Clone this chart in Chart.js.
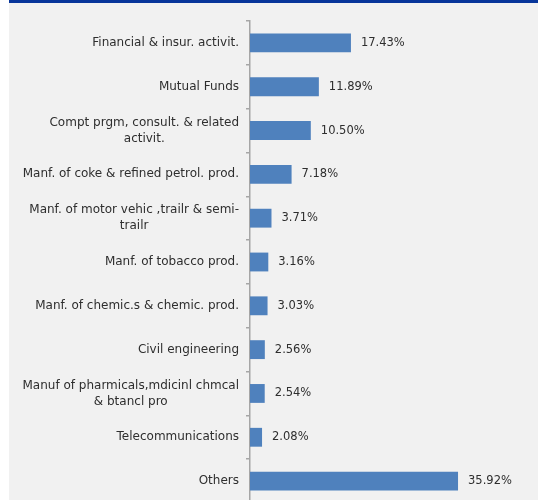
<!DOCTYPE html>
<html>
<head>
<meta charset="utf-8">
<script src="https://cdn.jsdelivr.net/npm/chart.js@4.4.1/dist/chart.umd.min.js"></script>
<style>
    html, body { margin: 0; padding: 0; background: #fff; overflow: hidden; }
    #wrap { position: relative; width: 538px; height: 500px; overflow: hidden; }
    #panel { position: absolute; left: 9px; top: 0; right: 0; bottom: 0; background: #f1f1f1; }
    #band { position: absolute; left: 9px; top: 0; right: 0; height: 3px; background: #07359a; }
    #sector-chart { position: absolute; left: 0; top: 0; }
</style>
</head>
<body>
<div id="wrap">
    <div id="panel"></div>
    <div id="band"></div>
    <canvas id="sector-chart" width="538" height="505"></canvas>
</div>
<script>
// sectors, top to bottom; wrapped names are split into lines
const sectors = [
    ['Financial & insur. activit.'],
    ['Mutual Funds'],
    ['Compt prgm, consult. & related', 'activit.'],
    ['Manf. of coke & refined petrol. prod.'],
    ['Manf. of motor vehic ,trailr & semi-', 'trailr'],
    ['Manf. of tobacco prod.'],
    ['Manf. of chemic.s & chemic. prod.'],
    ['Civil engineering'],
    ['Manuf of pharmicals,mdicinl chmcal', '& btancl pro'],
    ['Telecommunications'],
    ['Others']
];
const shares = [17.43, 11.89, 10.50, 7.18, 3.71, 3.16, 3.03, 2.56, 2.54, 2.08, 35.92];

const FONT = '12px "DejaVu Sans", sans-serif';
const VALUE_FONT = '11.5px "DejaVu Sans", sans-serif';
const TEXT_COLOR = '#2e2e2e';

// category names: right-aligned block, lines centred within it
const sectorLabels = {
    id: 'sectorLabels',
    afterDraw(chart) {
        const ctx = chart.ctx;
        const yScale = chart.scales.y;
        const right = yScale.right - 11;
        const lineH = 16;
        ctx.save();
        ctx.font = FONT;
        ctx.fillStyle = TEXT_COLOR;
        ctx.textAlign = 'center';
        ctx.textBaseline = 'middle';
        sectors.forEach((lines, i) => {
            const yc = yScale.getPixelForValue(i);
            const w = Math.max(...lines.map(l => ctx.measureText(l).width));
            const xc = right - w / 2;
            const top = yc - (lines.length - 1) * lineH / 2;
            lines.forEach((l, j) => ctx.fillText(l, xc, top + j * lineH));
        });
        ctx.restore();
    }
};

// percentage next to the end of each bar
const valueLabels = {
    id: 'valueLabels',
    afterDatasetsDraw(chart) {
        const ctx = chart.ctx;
        const meta = chart.getDatasetMeta(0);
        ctx.save();
        ctx.font = VALUE_FONT;
        ctx.fillStyle = TEXT_COLOR;
        ctx.textAlign = 'left';
        ctx.textBaseline = 'middle';
        meta.data.forEach((bar, i) => {
            ctx.fillText(shares[i].toFixed(2) + '%', bar.x + 10, bar.y);
        });
        ctx.restore();
    }
};

new Chart(document.getElementById('sector-chart'), {
    type: 'bar',
    data: {
        labels: sectors.map(l => l.join(' ')),
        datasets: [{
            data: shares,
            backgroundColor: '#4f81bd',
            borderWidth: 0,
            barPercentage: 0.43,
            categoryPercentage: 1
        }]
    },
    options: {
        indexAxis: 'y',
        responsive: false,
        animation: false,
        layout: { padding: { top: 21, bottom: 2, left: 0, right: 10 } },
        plugins: {
            legend: { display: false },
            tooltip: { enabled: false }
        },
        scales: {
            x: { display: false, min: 0, max: 48 },
            y: {
                offset: true,
                grid: {
                    offset: true,
                    drawOnChartArea: false,
                    drawTicks: true,
                    tickLength: 4,
                    color: '#a6a6a6',
                    lineWidth: 1.5
                },
                border: { color: '#a6a6a6', width: 1.5 },
                ticks: { display: false },
                afterFit(scale) { scale.width = 250; }
            }
        }
    },
    plugins: [sectorLabels, valueLabels]
});
</script>
</body>
</html>
